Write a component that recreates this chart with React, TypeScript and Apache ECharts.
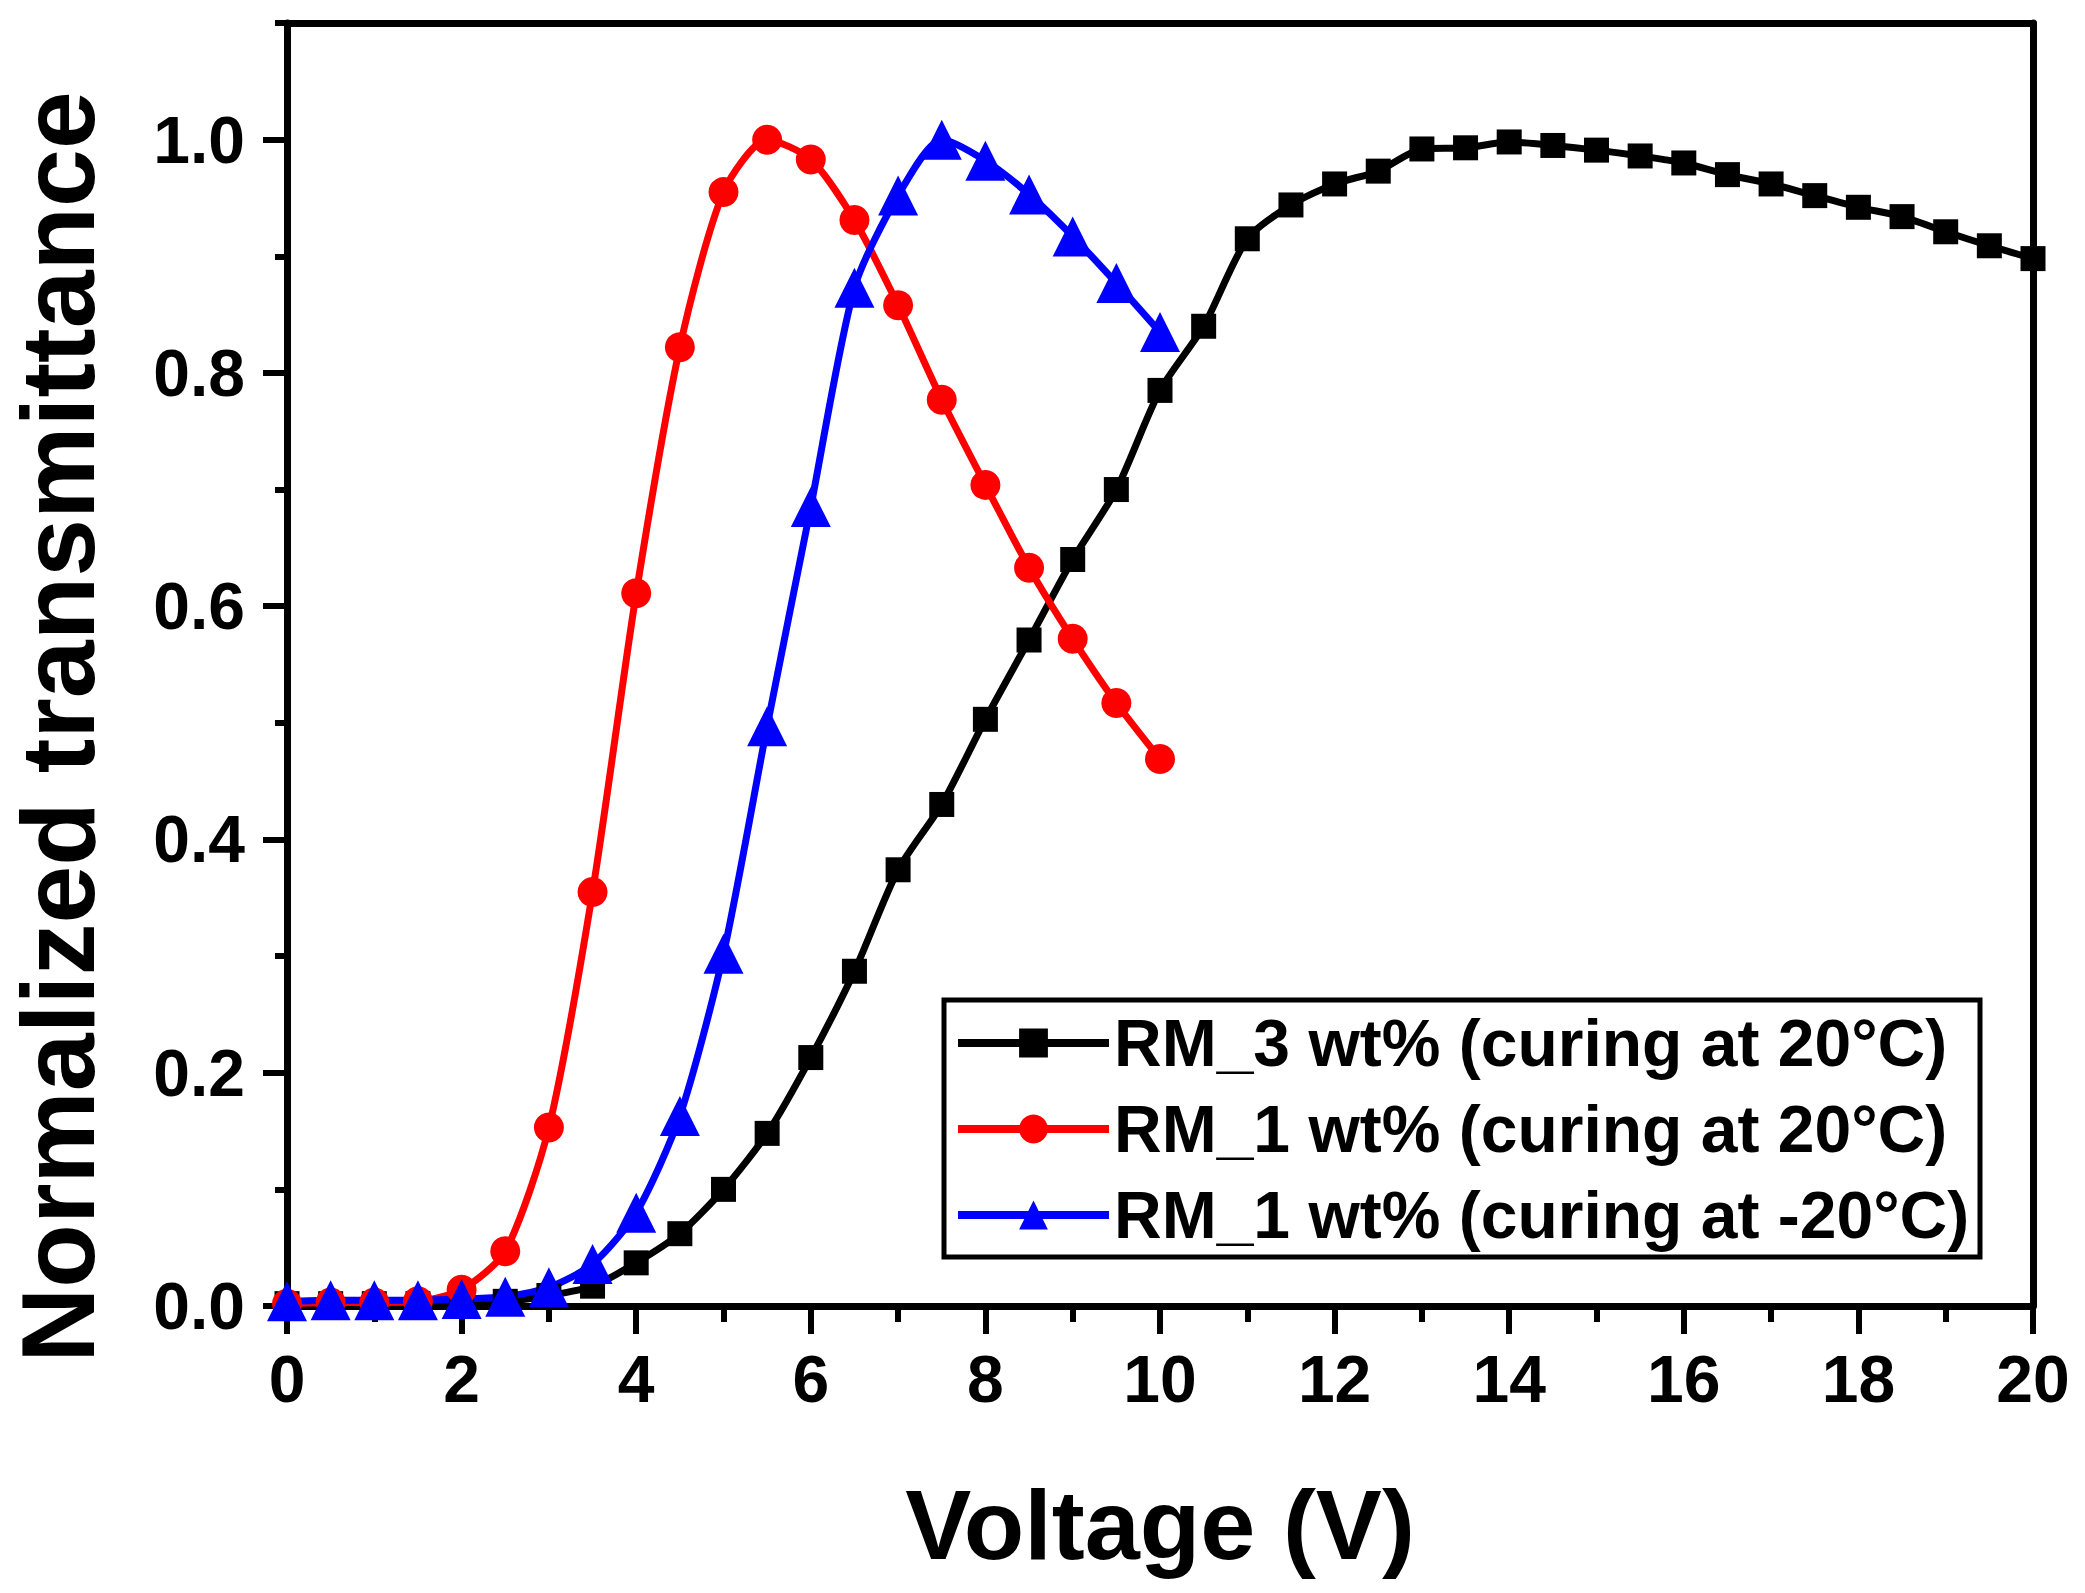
import React, { useEffect, useRef } from "react";
import * as echarts from "echarts";

const seriesNames = [
  "RM_3 wt% (curing at 20°C)",
  "RM_1 wt% (curing at 20°C)",
  "RM_1 wt% (curing at -20°C)",
];

const rm3Voltage = [
  0, 0.5, 1, 1.5, 2, 2.5, 3, 3.5, 4, 4.5, 5, 5.5, 6, 6.5, 7, 7.5, 8, 8.5, 9, 9.5, 10,
  10.5, 11, 11.5, 12, 12.5, 13, 13.5, 14, 14.5, 15, 15.5, 16, 16.5, 17, 17.5, 18, 18.5,
  19, 19.5, 20,
];
const rm3Trans = [
  0.002, 0.002, 0.002, 0.002, 0.003, 0.004, 0.009, 0.017, 0.037, 0.062, 0.1, 0.148,
  0.213, 0.287, 0.374, 0.43, 0.503, 0.571, 0.64, 0.7, 0.785, 0.84, 0.915, 0.944, 0.962,
  0.973, 0.992, 0.993, 0.998, 0.995, 0.991, 0.986, 0.98, 0.97, 0.962, 0.952, 0.942,
  0.934, 0.921, 0.909, 0.898,
];

const rm1Voltage = [
  0, 0.5, 1, 1.5, 2, 2.5, 3, 3.5, 4, 4.5, 5, 5.5, 6, 6.5, 7, 7.5, 8, 8.5, 9, 9.5, 10,
];
const rm1WarmTrans = [
  0.002, 0.003, 0.003, 0.004, 0.014, 0.047, 0.153, 0.355, 0.611, 0.822, 0.955, 1.0,
  0.983, 0.931, 0.858, 0.777, 0.704, 0.633, 0.572, 0.517, 0.469,
];
const rm1ColdTrans = [
  0.004, 0.005, 0.005, 0.005, 0.006, 0.008, 0.016, 0.036, 0.08, 0.163, 0.302, 0.497,
  0.685, 0.873, 0.952, 1.0, 0.982, 0.953, 0.917, 0.877, 0.835,
];

const yMajorTicks = [0, 0.2, 0.4, 0.6, 0.8, 1.0];

const FONT = "'Liberation Sans', Arial, sans-serif";

function pairs(xs: number[], ys: number[]) {
  return xs.map((x, i) => [x, ys[i]]);
}

export default function App() {
  const ref = useRef<HTMLDivElement>(null);

  useEffect(() => {
    if (!ref.current) return;
    const chart = echarts.init(ref.current, null, { renderer: "svg" });
    const labelStyle = {
      fontFamily: FONT,
      fontWeight: "bold" as const,
      fontSize: 66,
      color: "#000",
    };
    chart.setOption({
      animation: false,
      backgroundColor: "#fff",
      grid: { left: 287, right: 52, top: 23, bottom: 287, containLabel: false },
      xAxis: [
        {
          type: "value",
          min: 0,
          max: 20,
          interval: 2,
          position: "bottom",
          axisLine: { show: true, lineStyle: { color: "#000", width: 7 } },
          axisTick: { show: true, inside: false, length: 28, lineStyle: { color: "#000", width: 6 } },
          minorTick: { show: true, splitNumber: 2, length: 16, lineStyle: { color: "#000", width: 6 } },
          splitLine: { show: false },
          minorSplitLine: { show: false },
          axisLabel: { ...labelStyle, margin: 40 },
        },
        {
          type: "value",
          min: 0,
          max: 20,
          position: "top",
          axisLine: { show: true, onZero: false, lineStyle: { color: "#000", width: 7 } },
          axisTick: { show: false },
          axisLabel: { show: false },
          splitLine: { show: false },
        },
      ],
      yAxis: [
        {
          type: "value",
          min: 0,
          max: 1.1,
          interval: 0.2,
          position: "left",
          axisLine: { show: true, onZero: false, lineStyle: { color: "#000", width: 7 } },
          axisTick: {
            show: true,
            inside: false,
            length: 24,
            customValues: yMajorTicks,
            lineStyle: { color: "#000", width: 6 },
          },
          splitLine: { show: false },
          axisLabel: {
            ...labelStyle,
            margin: 42,
            customValues: yMajorTicks,
            formatter: (v: number) => (v > 1.05 ? "" : v.toFixed(1)),
          },
        },
        {
          type: "value",
          min: 0,
          max: 1.1,
          interval: 0.1,
          position: "left",
          axisLine: { show: false },
          axisTick: { show: true, inside: false, length: 12, lineStyle: { color: "#000", width: 6 } },
          axisLabel: { show: false },
          splitLine: { show: false },
        },
        {
          type: "value",
          min: 0,
          max: 1.1,
          position: "right",
          axisLine: { show: true, onZero: false, lineStyle: { color: "#000", width: 7 } },
          axisTick: { show: false },
          axisLabel: { show: false },
          splitLine: { show: false },
        },
      ],
      legend: {
        orient: "vertical",
        left: 954,
        top: 1000,
        padding: 0,
        itemGap: 0,
        itemWidth: 151,
        itemHeight: 36,
        lineStyle: { width: 8 },
        data: seriesNames,
        textStyle: {
          fontFamily: FONT,
          fontWeight: "bold",
          fontSize: 66,
          lineHeight: 86,
          color: "#000",
        },
      },
      graphic: [
        {
          type: "rect",
          shape: { x: 944, y: 1000, width: 1036, height: 257 },
          style: { fill: "none", stroke: "#000", lineWidth: 5 },
          z: 100,
        },
        {
          type: "text",
          x: 1160,
          y: 1524,
          style: {
            text: "Voltage (V)",
            fontFamily: FONT,
            fontWeight: "bold",
            fontSize: 99,
            fill: "#000",
            align: "center",
            verticalAlign: "middle",
          },
        },
        {
          type: "text",
          x: 58,
          y: 727,
          rotation: Math.PI / 2,
          style: {
            text: "Normalized transmittance",
            fontFamily: FONT,
            fontWeight: "bold",
            fontSize: 104,
            fill: "#000",
            align: "center",
            verticalAlign: "middle",
          },
        },
      ],
      series: [
        {
          name: seriesNames[0],
          type: "line",
          xAxisIndex: 0,
          yAxisIndex: 0,
          data: pairs(rm3Voltage, rm3Trans),
          smooth: 0.25,
          symbol: "rect",
          symbolSize: 25,
          lineStyle: { color: "#000", width: 7 },
          itemStyle: { color: "#000" },
        },
        {
          name: seriesNames[1],
          type: "line",
          xAxisIndex: 0,
          yAxisIndex: 0,
          data: pairs(rm1Voltage, rm1WarmTrans),
          smooth: 0.25,
          symbol: "circle",
          symbolSize: 30,
          lineStyle: { color: "#ff0000", width: 7 },
          itemStyle: { color: "#ff0000" },
        },
        {
          name: seriesNames[2],
          type: "line",
          xAxisIndex: 0,
          yAxisIndex: 0,
          data: pairs(rm1Voltage, rm1ColdTrans),
          smooth: 0.25,
          symbol: "triangle",
          symbolSize: 40,
          lineStyle: { color: "#0000ff", width: 7 },
          itemStyle: { color: "#0000ff" },
        },
      ],
    });
    return () => chart.dispose();
  }, []);

  return (
    <div
      ref={ref}
      style={{ position: "absolute", left: 0, top: 0, width: 2085, height: 1593 }}
    />
  );
}
